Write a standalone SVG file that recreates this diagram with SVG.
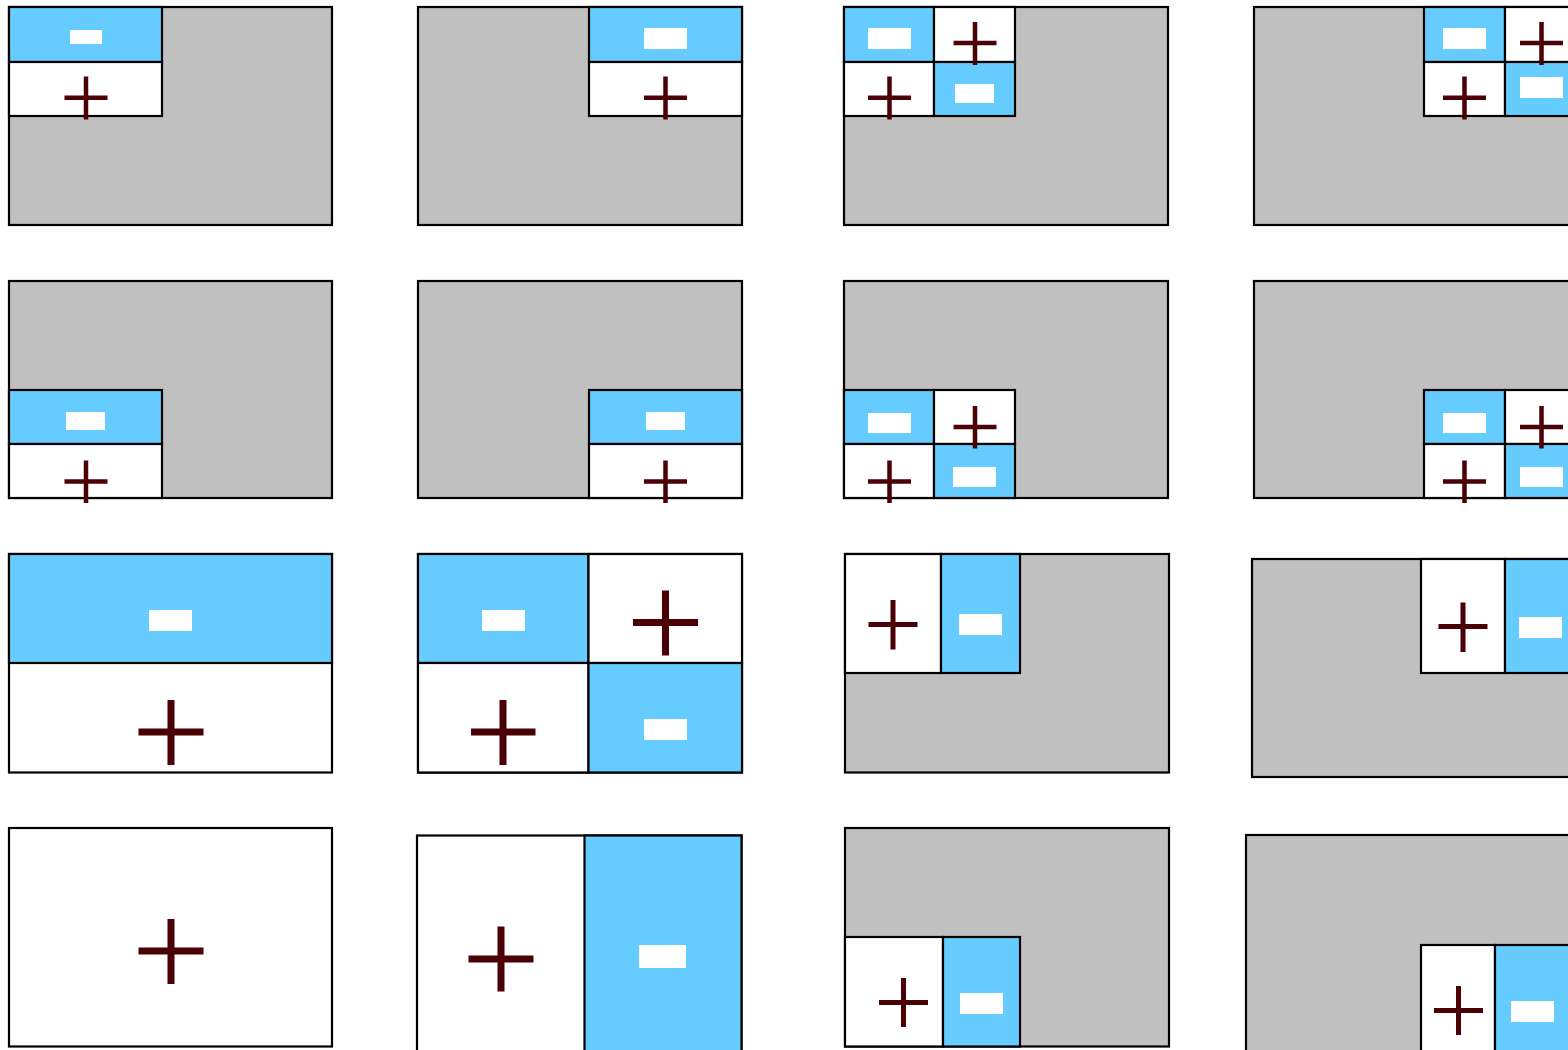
<svg xmlns="http://www.w3.org/2000/svg" width="1568" height="1050" viewBox="0 0 1568 1050">
<style>
.frame{stroke:#000;stroke-width:2.2}
.g{fill:#c0c0c0}
.w{fill:#fff}
.b{fill:#66ccff}
.m{fill:#fff;stroke:none}
.p{stroke:#4a0004;fill:none;stroke-linecap:butt}
.p4{stroke-width:4.5}
.p5{stroke-width:5}
.p7{stroke-width:7}
</style>
<rect width="1568" height="1050" fill="#fff"/>
<g id="panel-1">
<rect class="frame g" x="9" y="7" width="323" height="218"/>
<rect class="frame b" x="9" y="7" width="153" height="55"/>
<rect class="frame w" x="9" y="62" width="153" height="54"/>
<rect class="m" x="70" y="30" width="32" height="14"/>
<path class="p p4" d="M64.5 97.7H107.5M86 76.5V119.5"/>
</g>
<g id="panel-2">
<rect class="frame g" x="418" y="7" width="324" height="218"/>
<rect class="frame b" x="589" y="7" width="153" height="55"/>
<rect class="frame w" x="589" y="62" width="153" height="54"/>
<rect class="m" x="644" y="28" width="43" height="21"/>
<path class="p p4" d="M644 97.7H687M665.5 76.5V119.5"/>
</g>
<g id="panel-3">
<rect class="frame g" x="844" y="7" width="324" height="218"/>
<rect class="frame b" x="844" y="7" width="90" height="55"/>
<rect class="frame w" x="934" y="7" width="81" height="55"/>
<rect class="frame w" x="844" y="62" width="90" height="54"/>
<rect class="frame b" x="934" y="62" width="81" height="54"/>
<rect class="m" x="868" y="28" width="43" height="21"/>
<path class="p p4" d="M953.5 43H996.5M975 22V65"/>
<path class="p p4" d="M868 97.7H911M889.5 76.5V119.5"/>
<rect class="m" x="955" y="84" width="39" height="19"/>
</g>
<g id="panel-4">
<rect class="frame g" x="1254" y="7" width="330" height="218"/>
<rect class="frame b" x="1424" y="7" width="81" height="55"/>
<rect class="frame w" x="1505" y="7" width="81" height="55"/>
<rect class="frame w" x="1424" y="62" width="81" height="54"/>
<rect class="frame b" x="1505" y="62" width="81" height="54"/>
<rect class="m" x="1443" y="28" width="43" height="21"/>
<path class="p p4" d="M1520 43H1563M1541.5 22V65"/>
<path class="p p4" d="M1443 97.7H1486M1464.5 76.5V119.5"/>
<rect class="m" x="1520" y="77" width="43" height="21"/>
</g>
<g id="panel-5">
<rect class="frame g" x="9" y="281" width="323" height="217"/>
<rect class="frame b" x="9" y="390" width="153" height="54"/>
<rect class="frame w" x="9" y="444" width="153" height="54"/>
<rect class="m" x="66" y="412" width="39" height="18"/>
<path class="p p4" d="M64.5 481.5H107.5M86 460.5V503"/>
</g>
<g id="panel-6">
<rect class="frame g" x="418" y="281" width="324" height="217"/>
<rect class="frame b" x="589" y="390" width="153" height="54"/>
<rect class="frame w" x="589" y="444" width="153" height="54"/>
<rect class="m" x="646" y="412" width="39" height="18"/>
<path class="p p4" d="M644 481.5H687M665.5 460.5V503"/>
</g>
<g id="panel-7">
<rect class="frame g" x="844" y="281" width="324" height="217"/>
<rect class="frame b" x="844" y="390" width="90" height="54"/>
<rect class="frame w" x="934" y="390" width="81" height="54"/>
<rect class="frame w" x="844" y="444" width="90" height="54"/>
<rect class="frame b" x="934" y="444" width="81" height="54"/>
<rect class="m" x="868" y="413" width="43" height="20"/>
<path class="p p4" d="M953.5 427H996.5M975 406V448.5"/>
<path class="p p4" d="M868 481.5H911M889.5 460.5V503"/>
<rect class="m" x="953" y="467" width="43" height="20"/>
</g>
<g id="panel-8">
<rect class="frame g" x="1254" y="281" width="330" height="217"/>
<rect class="frame b" x="1424" y="390" width="81" height="54"/>
<rect class="frame w" x="1505" y="390" width="81" height="54"/>
<rect class="frame w" x="1424" y="444" width="81" height="54"/>
<rect class="frame b" x="1505" y="444" width="81" height="54"/>
<rect class="m" x="1443" y="413" width="43" height="20"/>
<path class="p p4" d="M1520 427H1563M1541.5 406V448.5"/>
<path class="p p4" d="M1443 481.5H1486M1464.5 460.5V503"/>
<rect class="m" x="1520" y="467" width="43" height="20"/>
</g>
<g id="panel-9">
<rect class="frame w" x="9" y="554" width="323" height="218.5"/>
<rect class="frame b" x="9" y="554" width="323" height="109"/>
<rect class="m" x="149" y="610" width="43" height="21"/>
<path class="p p7" d="M138.5 732H203.5M171 700V765"/>
</g>
<g id="panel-10">
<rect class="frame w" x="418" y="554" width="324" height="218.5"/>
<rect class="frame b" x="418" y="554" width="170.5" height="109"/>
<rect class="frame w" x="588.5" y="554" width="153.5" height="109"/>
<rect class="frame w" x="418" y="663" width="170.5" height="109.5"/>
<rect class="frame b" x="588.5" y="663" width="153.5" height="109.5"/>
<rect class="m" x="482" y="610" width="43" height="21"/>
<path class="p p7" d="M633 622.5H698M665.5 590.5V655.5"/>
<path class="p p7" d="M471 732H535.5M503 700V765"/>
<rect class="m" x="644" y="719" width="43" height="21"/>
</g>
<g id="panel-11">
<rect class="frame g" x="845" y="554" width="324" height="218.5"/>
<rect class="frame w" x="845" y="554" width="96" height="119"/>
<rect class="frame b" x="941" y="554" width="79" height="119"/>
<path class="p p5" d="M868.5 624.5H917.5M893 600V649.5"/>
<rect class="m" x="959" y="614" width="43" height="21"/>
</g>
<g id="panel-12">
<rect class="frame g" x="1252" y="559" width="330" height="218"/>
<rect class="frame w" x="1421" y="559" width="84" height="114"/>
<rect class="frame b" x="1505" y="559" width="80" height="114"/>
<path class="p p5" d="M1438.5 626.5H1487.5M1463 602.5V652"/>
<rect class="m" x="1519" y="617" width="43" height="21"/>
</g>
<g id="panel-13">
<rect class="frame w" x="9" y="828" width="323" height="218.5"/>
<path class="p p7" d="M138.5 951H203.5M171 919V984"/>
</g>
<g id="panel-14">
<rect class="frame w" x="417" y="835.5" width="324.5" height="220"/>
<rect class="frame b" x="584.5" y="835.5" width="157" height="220"/>
<path class="p p7" d="M468.5 959H533.5M501 926.5V991.5"/>
<rect class="m" x="639" y="945" width="47" height="23"/>
</g>
<g id="panel-15">
<rect class="frame g" x="845" y="828" width="324" height="218.5"/>
<rect class="frame w" x="845" y="937" width="98" height="109.5"/>
<rect class="frame b" x="943" y="937" width="77" height="109.5"/>
<path class="p p5" d="M879 1002.5H928M903.5 978V1027"/>
<rect class="m" x="960" y="993" width="43" height="21"/>
</g>
<g id="panel-16">
<rect class="frame g" x="1246" y="835" width="340" height="220"/>
<rect class="frame w" x="1421" y="945" width="74" height="110"/>
<rect class="frame b" x="1495" y="945" width="90" height="110"/>
<path class="p p5" d="M1434 1010.5H1483M1458.5 986V1035"/>
<rect class="m" x="1511" y="1001" width="43" height="21"/>
</g>
<g id="connectors"></g>
</svg>
